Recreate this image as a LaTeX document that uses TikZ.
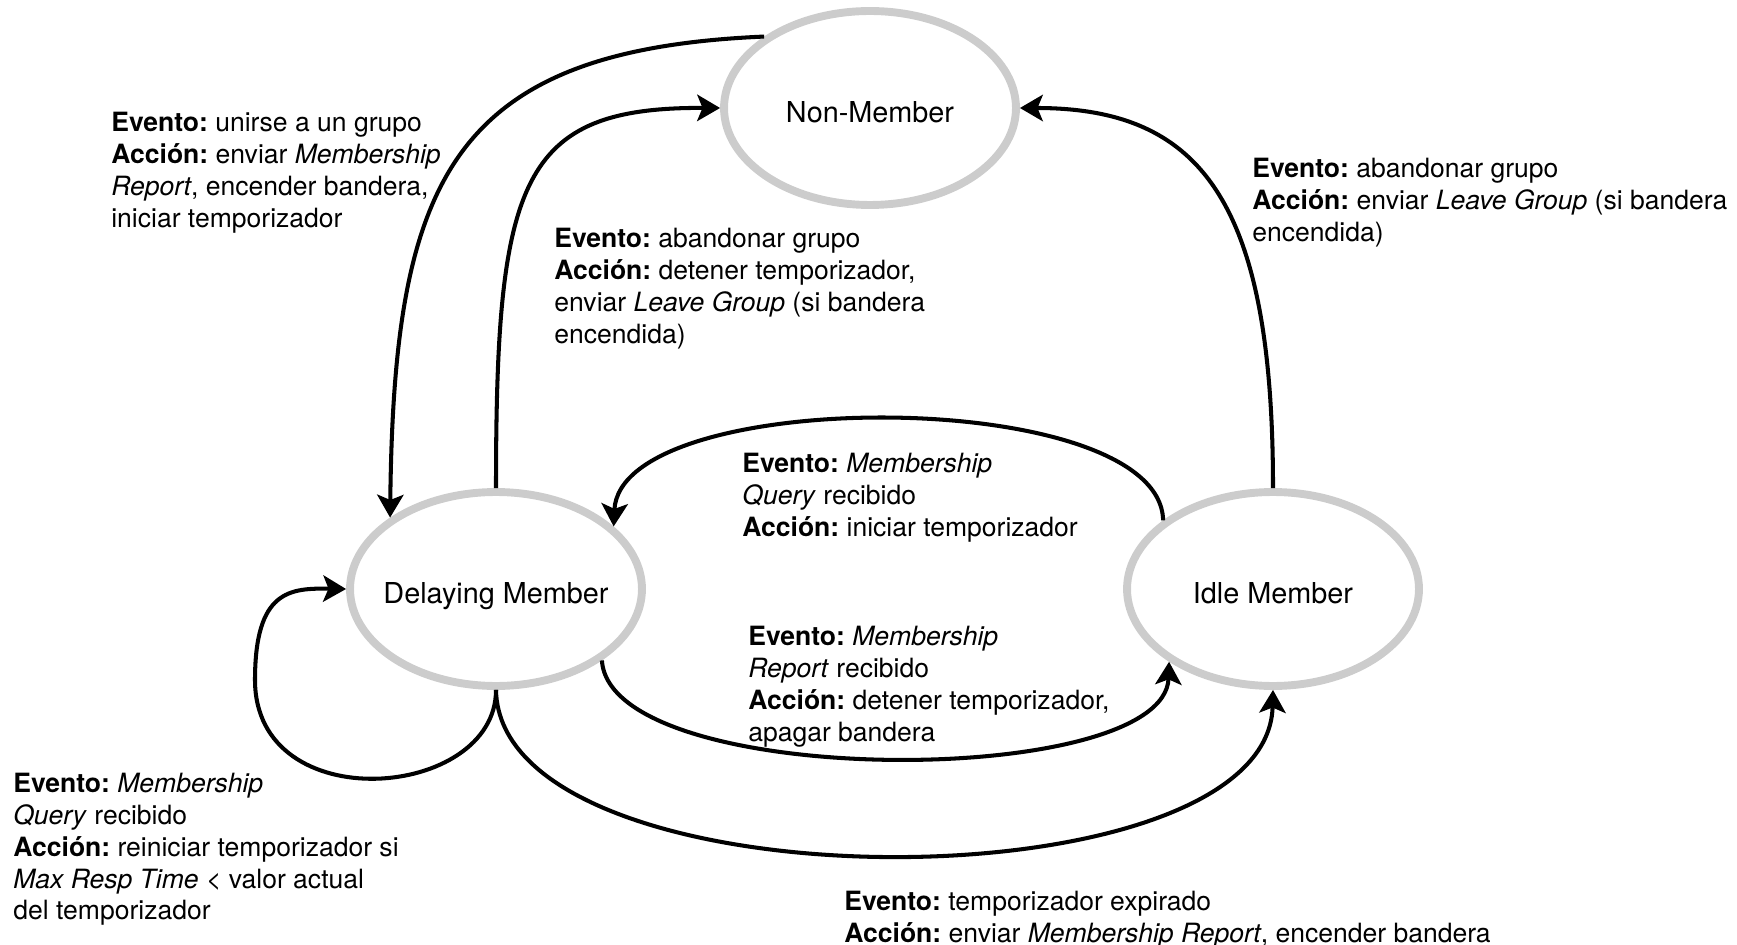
\documentclass[tikz,border=0pt]{standalone}
\usepackage{fontspec}
\setmainfont{TeX Gyre Heros}
\usetikzlibrary{arrows.meta,shapes.geometric}
\frenchspacing

\begin{document}
\begin{tikzpicture}[x=0.02cm,y=-0.02cm,>={Stealth[length=13pt,width=15pt,inset=3pt]}]
\tikzstyle{st}=[ellipse,draw=gray!40,line width=4.5pt,inner sep=0pt,inner xsep=-0.3cm,text height=17pt,text depth=0pt,minimum width=5.84cm,minimum height=3.88cm,font=\fontsize{16.4}{19.7}\selectfont]
\tikzstyle{lbl}=[anchor=north west,inner sep=0pt,align=left,font=\fontsize{15.1}{18.1}\selectfont]
\tikzstyle{tr}=[->,line width=2.3pt]
\useasboundingbox (0,0) rectangle (1737,945);
% estados
\node[st] (nm) at (870,108) {Non-Member};
\node[st] (dm) at (496,589) {Delaying Member};
\node[st] (im) at (1273,589) {Idle Member};
\coordinate (lp) at (255,680);
% transiciones
\draw[tr] (nm.146) .. controls (450,50) and (394,180) .. (dm.146);
\draw[tr] (dm.north) .. controls (496,180) and (520,107) .. (nm.west);
\draw[tr] (im.north) .. controls (1273,200) and (1200,108) .. (nm.east);
\draw[tr] (im.148) .. controls (1160,385) and (620,385) .. (dm.28);
\draw[tr] (dm.-34) .. controls (610,790) and (1165,790) .. (im.215);
\draw[tr] (dm.south) .. controls (500,910) and (1268,910) .. (im.south);
\draw[tr] (dm.south) .. controls (496,800) and (255,820) .. (lp) .. controls (255,590) and (290,588) .. (dm.west);
% etiquetas
\node[lbl] (l1) at (111,112) {\textbf{Evento:} unirse a un grupo\\\textbf{Acción:} enviar \textit{Membership}\\\textit{Report}, encender bandera,\\iniciar temporizador};
\node[lbl] (l2) at (554,228) {\textbf{Evento:} abandonar grupo\\\textbf{Acción:} detener temporizador,\\enviar \textit{Leave Group} (si bandera\\encendida)};
\node[lbl] (l3) at (1252,158) {\textbf{Evento:} abandonar grupo\\\textbf{Acción:} enviar \textit{Leave Group} (si bandera\\encendida)};
\node[lbl] (l4) at (742,453) {\textbf{Evento:} \textit{Membership}\\\textit{Query} recibido\\\textbf{Acción:} iniciar temporizador};
\node[lbl] (l5) at (748,626) {\textbf{Evento:} \textit{Membership}\\\textit{Report} recibido\\\textbf{Acción:} detener temporizador,\\apagar bandera};
\node[lbl] (l6) at (13,773) {\textbf{Evento:} \textit{Membership}\\\textit{Query} recibido\\\textbf{Acción:} reiniciar temporizador si\\\textit{Max Resp Time} < valor actual\\del temporizador};
\node[lbl] (l7) at (844,891) {\textbf{Evento:} temporizador expirado\\\textbf{Acción:} enviar \textit{Membership Report}, encender bandera};
\end{tikzpicture}
\end{document}
